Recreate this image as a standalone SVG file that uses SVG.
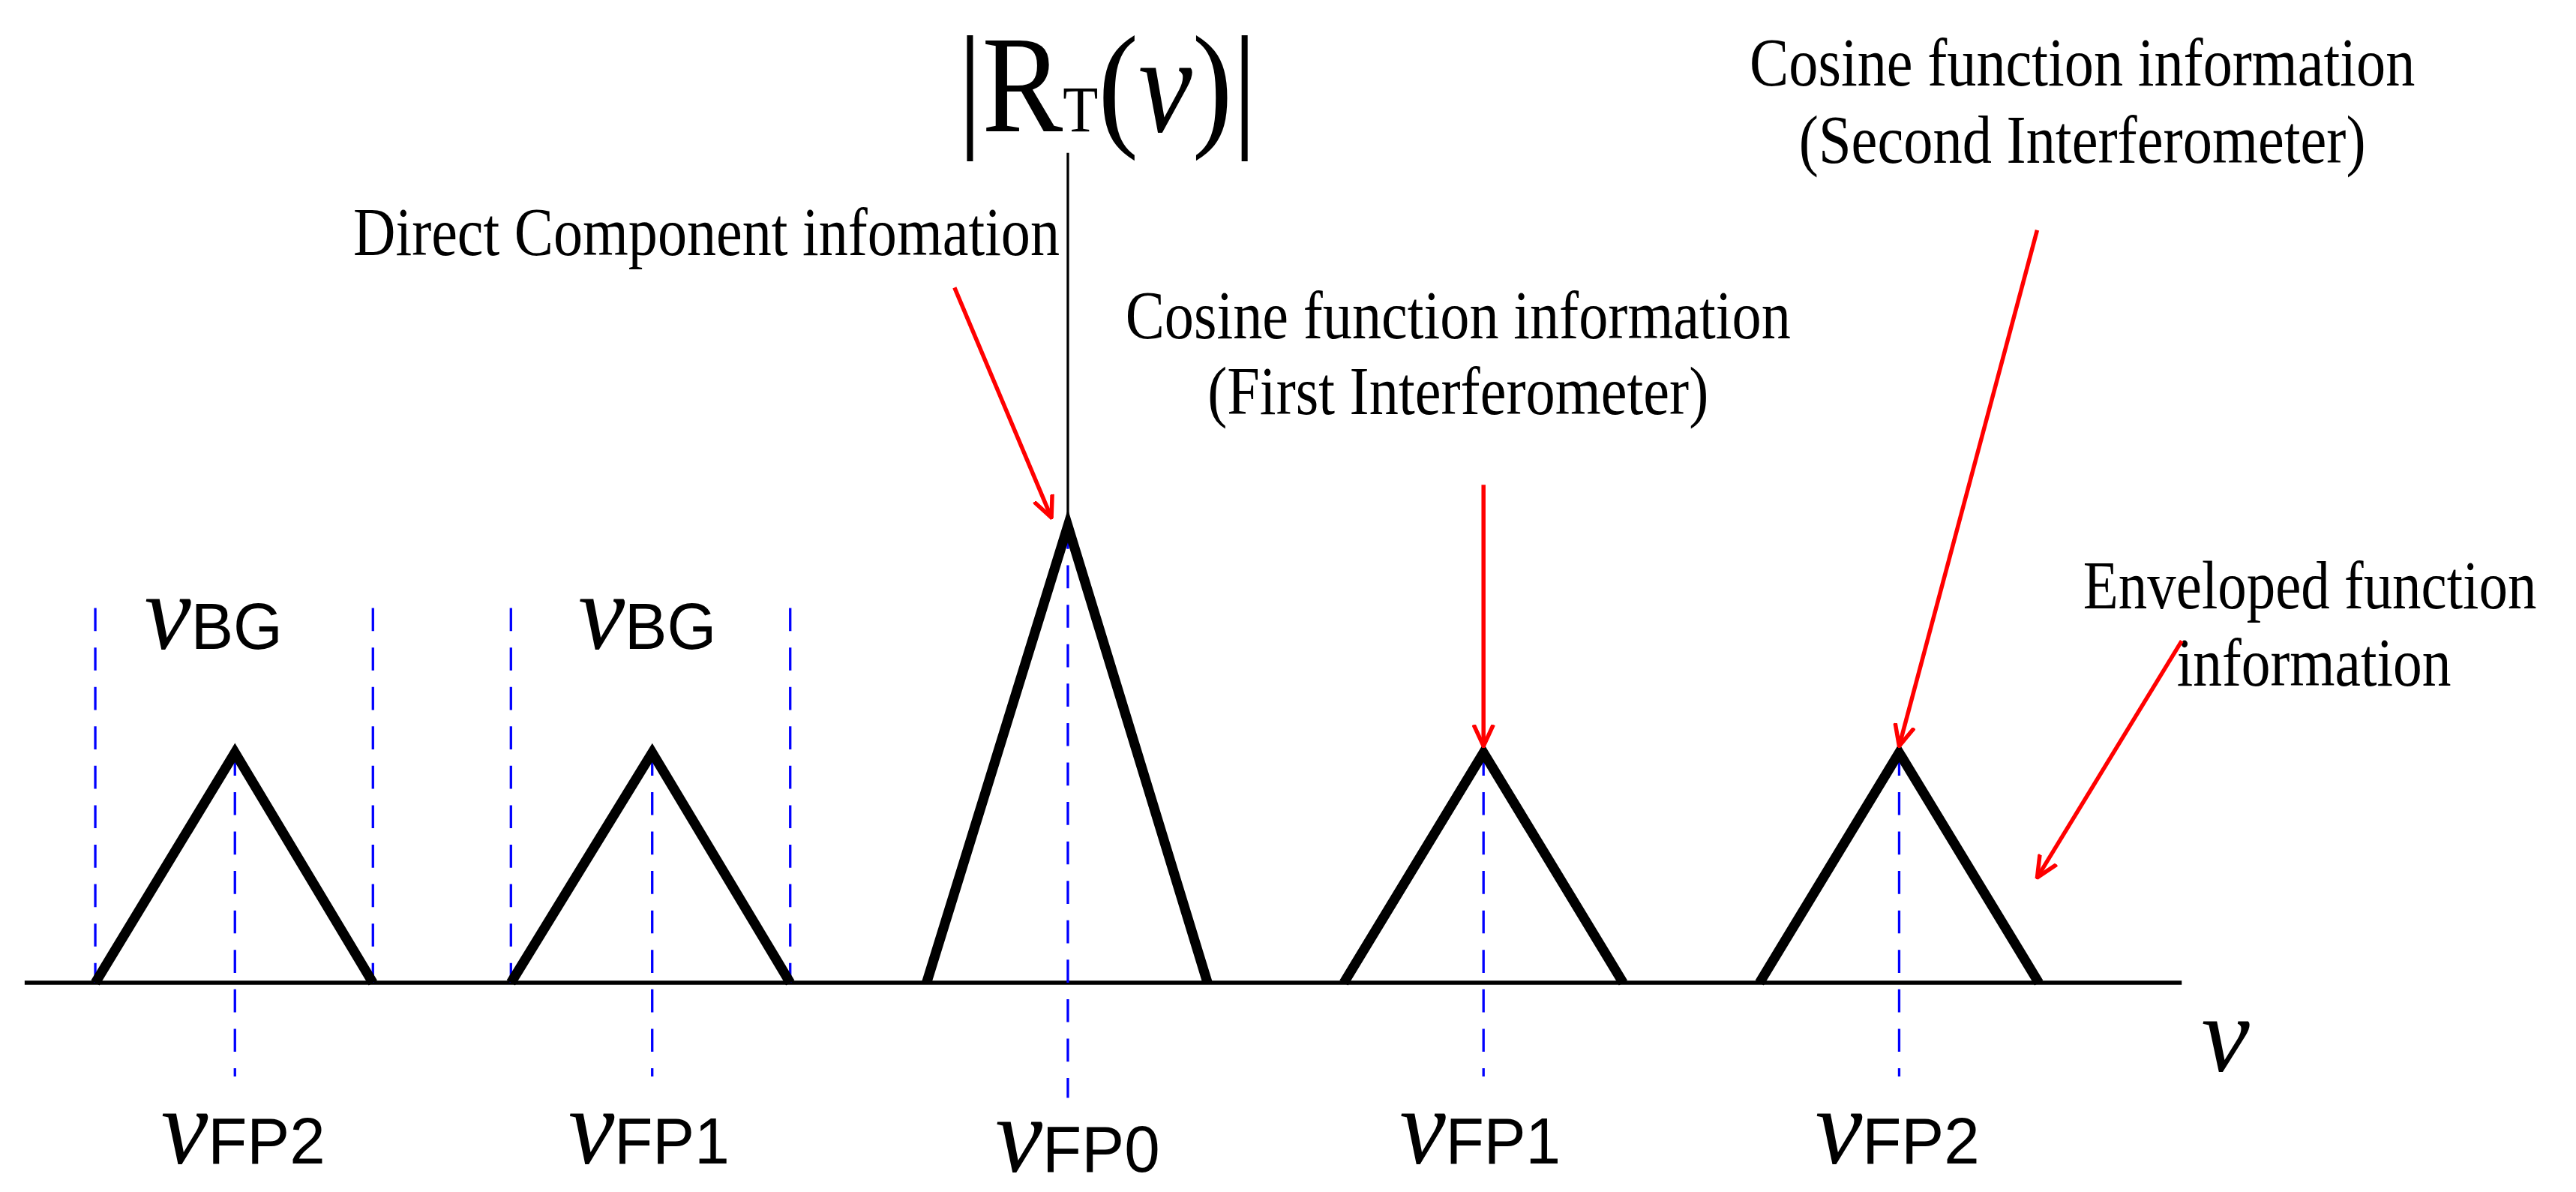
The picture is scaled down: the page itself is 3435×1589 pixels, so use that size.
<svg xmlns="http://www.w3.org/2000/svg" width="3435" height="1589" viewBox="0 0 3435 1589">
<style>
.tri{fill:none;stroke:#000;stroke-width:6;stroke-linejoin:miter}
.bl{stroke:#0000ff;stroke-width:1.5;stroke-dasharray:14,10}
.ar{stroke:#ff0000;stroke-width:2.5;fill:none}
.t{font-family:"Liberation Serif",serif;font-size:42px;fill:#000}
.nu{font-family:"Liberation Serif",serif;font-style:italic;font-size:66px;fill:#000}
.sb{font-family:"Liberation Sans",sans-serif;font-style:normal;font-size:40px;fill:#000}
</style>
<defs><marker id="ah" markerWidth="14" markerHeight="14" refX="13" refY="7" orient="auto" markerUnits="userSpaceOnUse" viewBox="0 0 14 14"><path d="M0,1 L13,7 L0,13" fill="none" stroke="#ff0000" stroke-width="2.5"/></marker></defs>
<rect width="3435" height="1589" fill="#fff"/>
<g transform="scale(2.1907)">
<g id="axes">
<line x1="15" y1="598" x2="1328" y2="598" stroke="#000" stroke-width="2.5"/>
<line x1="650" y1="93" x2="650" y2="320" stroke="#000" stroke-width="1.5"/>
<text x="583" y="80" style="font-family:'Liberation Serif',serif;font-size:84px" textLength="182" lengthAdjust="spacingAndGlyphs">|R<tspan style="font-size:40px">T</tspan>(<tspan style="font-style:italic">ν</tspan>)|</text>
<text class="nu" x="1340" y="652" style="font-size:66px">ν</text>
</g>
<g id="guides">
<line class="bl" x1="58" y1="370" x2="58" y2="598"/><line class="bl" x1="227" y1="370" x2="227" y2="598"/><line class="bl" x1="143" y1="458" x2="143" y2="655"/>
<line class="bl" x1="311" y1="370" x2="311" y2="598"/><line class="bl" x1="481" y1="370" x2="481" y2="598"/><line class="bl" x1="397" y1="458" x2="397" y2="655"/>
<line class="bl" x1="650" y1="320" x2="650" y2="668"/>
<line class="bl" x1="903" y1="458" x2="903" y2="655"/>
<line class="bl" x1="1156" y1="458" x2="1156" y2="655"/>
</g>
<g id="peaks">
<polyline class="tri" points="58,598 143,458 227,598"/>
<polyline class="tri" points="311,598 397,458 481,598"/>
<polyline class="tri" points="564,598 650,320 735,598"/>
<polyline class="tri" points="818,598 903,458 988,598"/>
<polyline class="tri" points="1071,598 1156,458 1241,598"/>
</g>
<g id="labels">
<text class="nu" x="88" y="395" textLength="84" lengthAdjust="spacingAndGlyphs">ν<tspan class="sb">BG</tspan></text>
<text class="nu" x="352" y="395" textLength="84" lengthAdjust="spacingAndGlyphs">ν<tspan class="sb">BG</tspan></text>
<text class="nu" x="98" y="708" textLength="100" lengthAdjust="spacingAndGlyphs">ν<tspan class="sb">FP2</tspan></text>
<text class="nu" x="346" y="708" textLength="98" lengthAdjust="spacingAndGlyphs">ν<tspan class="sb">FP1</tspan></text>
<text class="nu" x="606" y="713" textLength="100" lengthAdjust="spacingAndGlyphs">ν<tspan class="sb">FP0</tspan></text>
<text class="nu" x="852" y="708" textLength="98" lengthAdjust="spacingAndGlyphs">ν<tspan class="sb">FP1</tspan></text>
<text class="nu" x="1105" y="708" textLength="100" lengthAdjust="spacingAndGlyphs">ν<tspan class="sb">FP2</tspan></text>
</g>
<g id="notes">
<text class="t" x="215" y="155" textLength="430" lengthAdjust="spacingAndGlyphs">Direct Component infomation</text>
<text class="t" x="685" y="206" textLength="405" lengthAdjust="spacingAndGlyphs">Cosine function information</text>
<text class="t" x="735" y="252" textLength="305" lengthAdjust="spacingAndGlyphs">(First Interferometer)</text>
<text class="t" x="1065" y="52" textLength="405" lengthAdjust="spacingAndGlyphs">Cosine function information</text>
<text class="t" x="1095" y="99" textLength="345" lengthAdjust="spacingAndGlyphs">(Second Interferometer)</text>
<text class="t" x="1268" y="370" textLength="276" lengthAdjust="spacingAndGlyphs">Enveloped function</text>
<text class="t" x="1325" y="417" textLength="167" lengthAdjust="spacingAndGlyphs">information</text>
</g>
<g id="connectors">
<line class="ar" x1="581" y1="175" x2="640" y2="315" marker-end="url(#ah)"/>
<line class="ar" x1="903" y1="295" x2="903" y2="454" marker-end="url(#ah)"/>
<line class="ar" x1="1240" y1="140" x2="1156" y2="454" marker-end="url(#ah)"/>
<line class="ar" x1="1328" y1="390" x2="1240" y2="534" marker-end="url(#ah)"/>
</g>
</g>
</svg>
